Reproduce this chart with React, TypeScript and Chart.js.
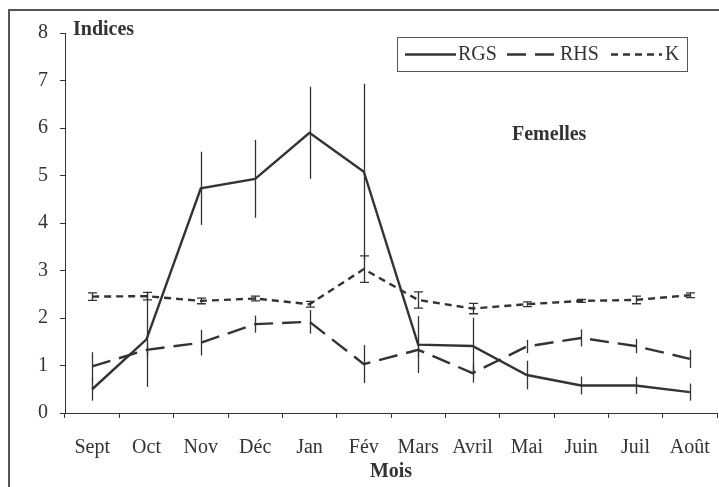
import React, { useEffect, useRef } from "react";
import { Chart, registerables } from "chart.js";

Chart.register(...registerables);

const months = ["Sept", "Oct", "Nov", "Déc", "Jan", "Fév", "Mars", "Avril", "Mai", "Juin", "Juil", "Août"];
const rgs = [0.5, 1.55, 4.73, 4.93, 5.9, 5.08, 1.44, 1.41, 0.8, 0.58, 0.58, 0.44];
const rgsErr = [0.24, 1.0, 0.77, 0.82, 0.97, 1.85, 0.6, 0.6, 0.3, 0.19, 0.18, 0.18];
const rhs = [0.98, 1.33, 1.48, 1.87, 1.92, 1.03, 1.33, 0.84, 1.4, 1.58, 1.41, 1.14];
const rhsErr = [0.3, 0.15, 0.27, 0.18, 0.25, 0.4, 0.15, 0.2, 0.14, 0.18, 0.15, 0.19];
const kVals = [2.45, 2.46, 2.36, 2.41, 2.29, 3.03, 2.38, 2.2, 2.29, 2.36, 2.38, 2.48];
const kErr = [0.08, 0.08, 0.06, 0.05, 0.06, 0.28, 0.17, 0.11, 0.05, 0.03, 0.08, 0.05];
const yTicks = [0, 1, 2, 3, 4, 5, 6, 7, 8];

const INK = "#333333";
const FONT = "'Liberation Serif', 'Times New Roman', serif";

const errors = [rgsErr, rhsErr, kErr];
const caps = [0, 0, 4.5];

const overlayPlugin = {
  id: "overlay",
  beforeDraw(chart: any) {
    const ctx = chart.ctx;
    ctx.save();
    ctx.strokeStyle = "#555";
    ctx.lineWidth = 2;
    ctx.beginPath();
    ctx.moveTo(9, chart.height + 2);
    ctx.lineTo(9, 10);
    ctx.lineTo(chart.width + 2, 10);
    ctx.stroke();
    ctx.restore();
  },
  afterDatasetsDraw(chart: any) {
    const ctx = chart.ctx;
    const y = chart.scales.y;
    ctx.save();
    ctx.strokeStyle = INK;
    ctx.lineWidth = 1.3;
    ctx.setLineDash([]);
    chart.data.datasets.forEach((ds: any, di: number) => {
      const meta = chart.getDatasetMeta(di);
      const err = errors[di];
      const cap = caps[di];
      meta.data.forEach((pt: any, i: number) => {
        const v = ds.data[i];
        const top = y.getPixelForValue(v + err[i]);
        const bot = y.getPixelForValue(v - err[i]);
        const x = Math.round(pt.x) + 0.5;
        ctx.beginPath();
        ctx.moveTo(x, top);
        ctx.lineTo(x, bot);
        if (cap > 0) {
          ctx.moveTo(x - cap, top);
          ctx.lineTo(x + cap, top);
          ctx.moveTo(x - cap, bot);
          ctx.lineTo(x + cap, bot);
        }
        ctx.stroke();
      });
    });
    ctx.restore();
  },
  afterDraw(chart: any) {
    const ctx = chart.ctx;
    ctx.save();
    ctx.fillStyle = INK;
    ctx.textBaseline = "middle";
    ctx.font = `bold 20px ${FONT}`;
    ctx.textAlign = "left";
    ctx.fillText("Indices", 73, 30);
    ctx.fillText("Femelles", 512, 135);

    // legend
    ctx.strokeStyle = "#555";
    ctx.lineWidth = 1;
    ctx.setLineDash([]);
    ctx.strokeRect(397.5, 37.5, 290, 34);
    const items = [
      { x0: 405, x1: 456, tx: 458, label: "RGS", di: 0 },
      { x0: 507, x1: 555, tx: 560, label: "RHS", di: 1 },
      { x0: 611, x1: 662, tx: 665, label: "K", di: 2 },
    ];
    ctx.font = `20px ${FONT}`;
    items.forEach((it) => {
      const ds = chart.data.datasets[it.di];
      ctx.strokeStyle = INK;
      ctx.lineWidth = ds.borderWidth;
      ctx.setLineDash(ds.borderDash || []);
      ctx.beginPath();
      ctx.moveTo(it.x0, 54.5);
      ctx.lineTo(it.x1, 54.5);
      ctx.stroke();
      ctx.setLineDash([]);
      ctx.fillText(it.label, it.tx, 55);
    });
    ctx.restore();
  },
};

export default function App() {
  const ref = useRef<HTMLCanvasElement | null>(null);
  useEffect(() => {
    if (!ref.current) return;
    const chart = new Chart(ref.current, {
      type: "line",
      data: {
        labels: months,
        datasets: [
          { label: "RGS", data: rgs, borderColor: INK, borderWidth: 2.4, pointRadius: 0, tension: 0, fill: false, borderDash: [] },
          { label: "RHS", data: rhs, borderColor: INK, borderWidth: 2.4, pointRadius: 0, tension: 0, fill: false, borderDash: [19, 9] },
          { label: "K", data: kVals, borderColor: INK, borderWidth: 2.4, pointRadius: 0, tension: 0, fill: false, borderDash: [7, 5] },
        ],
      },
      options: {
        responsive: false,
        animation: false,
        layout: { padding: { left: 0, right: 2, top: 33, bottom: 0 } },
        plugins: { legend: { display: false }, tooltip: { enabled: false }, title: { display: false } },
        scales: {
          x: {
            type: "category",
            offset: true,
            grid: { offset: true, drawOnChartArea: false, tickLength: 5, color: INK, lineWidth: 1 },
            border: { color: INK, width: 1 },
            ticks: { color: INK, font: { family: FONT, size: 20 }, padding: 18, maxRotation: 0, autoSkip: false },
            title: { display: true, text: "Mois", color: INK, font: { family: FONT, size: 20, weight: "bold" }, padding: { top: 0, bottom: 3 } },
            afterFit: (s: any) => { s.height = 74; s.paddingLeft = 0; s.paddingRight = 0; },
          },
          y: {
            min: 0,
            max: 8,
            afterBuildTicks: (s: any) => { s.ticks = yTicks.map((v) => ({ value: v })); },
            grid: { drawOnChartArea: false, tickLength: 5, color: INK, lineWidth: 1 },
            border: { color: INK, width: 1 },
            ticks: { color: INK, font: { family: FONT, size: 20 }, padding: 12 },
            afterFit: (s: any) => { s.width = 65; },
          },
        },
      },
      plugins: [overlayPlugin],
    } as any);
    return () => chart.destroy();
  }, []);
  return (
    <div style={{ position: "absolute", left: 0, top: 0, width: 719, height: 487 }}>
      <canvas ref={ref} width={719} height={487} />
    </div>
  );
}
